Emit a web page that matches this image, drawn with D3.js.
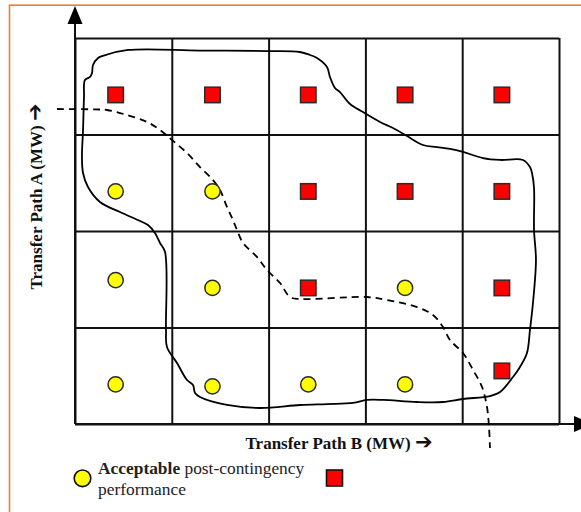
<!DOCTYPE html>
<html>
<head>
<meta charset="utf-8">
<script src="https://cdn.jsdelivr.net/npm/d3@7"></script>
<style>
  html, body { margin: 0; padding: 0; background: #fff; }
  svg { display: block; }
</style>
</head>
<body>
<div id="chart"></div>
<script>
// ---------------- data (grid units: Path B columns 0..5, Path A rows 0..4) ----------------
const gridCols = [0, 1, 2, 3, 4, 5];
const gridRows = [0, 1, 2, 3, 4];

// Acceptable post-contingency performance (yellow circles)
const acceptableB = [0.42, 1.42, 0.42, 1.42, 3.41, 0.42, 1.42, 2.41, 3.41];
const acceptableA = [2.41, 2.41, 1.49, 1.41, 1.41, 0.41, 0.39, 0.41, 0.41];

// Unacceptable performance (red squares)
const unacceptableB = [0.42, 1.42, 2.41, 3.41, 4.41, 2.41, 3.41, 4.41, 2.41, 4.41, 4.41];
const unacceptableA = [3.41, 3.41, 3.41, 3.41, 3.41, 2.41, 2.41, 2.41, 1.41, 1.41, 0.55];

// Hand-drawn closed region (solid)
const regionB = [0.548,1.291,2.014,2.324,2.428,2.500,2.603,2.634,2.686,2.738,2.841,2.975,3.151,3.285,3.430,3.595,3.740,3.874,4.008,4.215,4.391,4.628,4.700,4.721,4.742,4.742,4.762,4.731,4.700,4.669,4.597,4.525,4.391,4.287,4.008,3.802,3.533,3.182,3.017,2.872,2.603,2.324,1.911,1.570,1.291,1.240,1.219,1.157,1.054,0.950,0.940,0.930,0.878,0.826,0.754,0.671,0.465,0.258,0.134,0.083,0.072,0.083,0.093,0.103,0.155,0.176,0.186,0.238,0.279];
const regionA = [3.876,3.870,3.865,3.855,3.824,3.793,3.700,3.596,3.482,3.440,3.316,3.233,3.130,3.067,2.984,2.891,2.870,2.850,2.819,2.756,2.736,2.736,2.663,2.601,2.446,2.010,1.699,1.254,0.974,0.736,0.591,0.487,0.332,0.290,0.259,0.228,0.228,0.249,0.249,0.218,0.207,0.197,0.166,0.197,0.280,0.321,0.404,0.456,0.632,0.798,0.974,1.782,1.876,1.979,2.062,2.104,2.197,2.301,2.456,2.601,2.767,3.047,3.389,3.565,3.596,3.637,3.720,3.793,3.813];

// Dashed boundary curve
const dashB = [-0.186,0.258,0.331,0.537,0.744,0.878,1.002,1.157,1.291,1.426,1.498,1.570,1.632,1.674,1.736,1.880,1.983,2.118,2.221,2.324,3.017,3.223,3.533,3.698,3.802,3.874,4.008,4.112,4.205,4.256,4.277,4.287];
const dashA = [3.264,3.259,3.254,3.202,3.130,3.047,2.943,2.808,2.663,2.528,2.425,2.249,2.114,2.010,1.876,1.731,1.596,1.461,1.316,1.295,1.316,1.285,1.212,1.130,1.005,0.870,0.736,0.560,0.383,0.176,-0.031,-0.249];

const xLabel = "Transfer Path B (MW) ";
const yLabel = "Transfer Path A (MW) ";
const arrowGlyph = "\u2794";
const legendBold = "Acceptable";
const legendRest = " post-contingency";
const legendLine2 = "performance";

// ---------------- drawing ----------------
const W = 581, H = 512;
const serif = "'Liberation Serif', 'Times New Roman', 'DejaVu Serif', serif";
const arrowFont = "'DejaVu Sans', sans-serif";
const ink = "#111";

const svg = d3.select("#chart").append("svg")
  .attr("width", W).attr("height", H)
  .attr("viewBox", `0 0 ${W} ${H}`);

const x = d3.scaleLinear().domain([0, 5]).range([75, 559]);
const y = d3.scaleLinear().domain([0, 4]).range([424, 38]);

// orange frame
svg.append("rect")
  .attr("x", 9.5).attr("y", 5.2).attr("width", 640).attr("height", 620)
  .attr("fill", "none").attr("stroke", "#ed7d31").attr("stroke-width", 1.6);

// grid via axes
const gx = svg.append("g")
  .attr("transform", `translate(0,${y(0)})`)
  .call(d3.axisBottom(x).tickValues(gridCols).tickSize(-(y(0) - y(4))).tickFormat(""));
const gy = svg.append("g")
  .attr("transform", `translate(${x(0)},0)`)
  .call(d3.axisLeft(y).tickValues(gridRows).tickSize(-(x(5) - x(0))).tickFormat(""));
[gx, gy].forEach(g => {
  g.select(".domain").remove();
  g.selectAll(".tick line").attr("stroke", ink).attr("stroke-width", 2);
});

// axis arrows
svg.append("line")
  .attr("x1", x(0)).attr("y1", y(0)).attr("x2", x(0)).attr("y2", 22)
  .attr("stroke", ink).attr("stroke-width", 2);
svg.append("path")
  .attr("d", `M${x(0)},6 L${x(0) - 7.5},24 L${x(0) + 7.5},24 Z`)
  .attr("fill", "#000");
svg.append("line")
  .attr("x1", x(0)).attr("y1", y(0)).attr("x2", 576).attr("y2", y(0))
  .attr("stroke", ink).attr("stroke-width", 2);
svg.append("path")
  .attr("d", `M574,${y(0) - 8} L592,${y(0)} L574,${y(0) + 8} Z`)
  .attr("fill", "#000");

// region (solid)
const regionPts = regionB.map((b, i) => [b, regionA[i]]);
svg.append("path")
  .datum(regionPts)
  .attr("d", d3.line().x(d => x(d[0])).y(d => y(d[1])).curve(d3.curveCatmullRomClosed.alpha(0.5)))
  .attr("fill", "none").attr("stroke", "#000").attr("stroke-width", 1.8)
  .attr("stroke-linejoin", "round");

// dashed curve
const dashPts = dashB.map((b, i) => [b, dashA[i]]);
svg.append("path")
  .datum(dashPts)
  .attr("d", d3.line().x(d => x(d[0])).y(d => y(d[1])).curve(d3.curveCatmullRom.alpha(0.5)))
  .attr("fill", "none").attr("stroke", "#000").attr("stroke-width", 1.8)
  .attr("stroke-dasharray", "7,5");

// markers
const sq = 15.5;
svg.append("g").selectAll("rect")
  .data(unacceptableB.map((b, i) => [b, unacceptableA[i]]))
  .join("rect")
  .attr("x", d => x(d[0]) - sq / 2).attr("y", d => y(d[1]) - sq / 2)
  .attr("width", sq).attr("height", sq)
  .attr("fill", "#ff0000").attr("stroke", "#2a2a2a").attr("stroke-width", 1.5);

svg.append("g").selectAll("circle")
  .data(acceptableB.map((b, i) => [b, acceptableA[i]]))
  .join("circle")
  .attr("cx", d => x(d[0])).attr("cy", d => y(d[1])).attr("r", 7.6)
  .attr("fill", "#ffff00").attr("stroke", "#2a2a2a").attr("stroke-width", 1.5);

// axis labels
const xl = svg.append("text")
  .attr("x", 339).attr("y", 448.5)
  .attr("text-anchor", "middle")
  .attr("font-family", serif).attr("font-weight", "bold").attr("font-size", 17)
  .attr("fill", ink);
xl.append("tspan").text(xLabel);
xl.append("tspan").attr("font-family", arrowFont).attr("font-size", 21).text(arrowGlyph);

const yl = svg.append("text")
  .attr("transform", "translate(42,196.5) rotate(-90)")
  .attr("text-anchor", "middle")
  .attr("font-family", serif).attr("font-weight", "bold").attr("font-size", 17)
  .attr("fill", ink);
yl.append("tspan").text(yLabel);
yl.append("tspan").attr("font-family", arrowFont).attr("font-size", 21).text(arrowGlyph);

// legend
svg.append("circle")
  .attr("cx", 82.5).attr("cy", 478.3).attr("r", 8.3)
  .attr("fill", "#ffff00").attr("stroke", "#111").attr("stroke-width", 1.6);
const lt = svg.append("text")
  .attr("x", 98).attr("y", 474)
  .attr("font-family", serif).attr("font-size", 17.4).attr("fill", "#222");
lt.append("tspan").attr("font-weight", "bold").text(legendBold);
lt.append("tspan").text(legendRest);
svg.append("text")
  .attr("x", 98).attr("y", 495)
  .attr("font-family", serif).attr("font-size", 17.4).attr("fill", "#222")
  .text(legendLine2);
svg.append("rect")
  .attr("x", 326.5).attr("y", 470).attr("width", 16).attr("height", 16)
  .attr("fill", "#ff0000").attr("stroke", "#111").attr("stroke-width", 1.6);
</script>
</body>
</html>
